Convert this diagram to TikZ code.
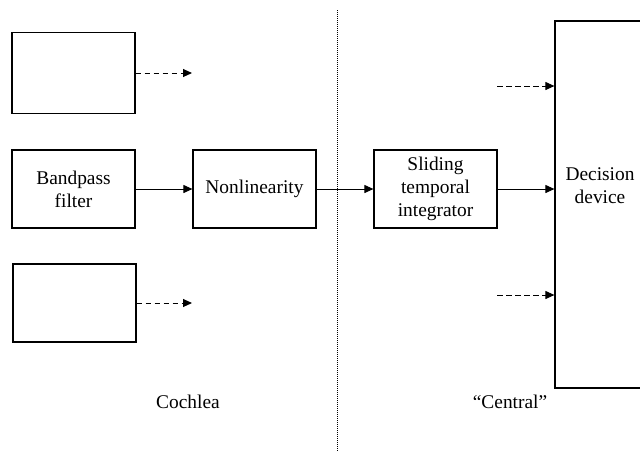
\documentclass[tikz,border=0pt]{standalone}
\usepackage{fontspec}
\setmainfont{Liberation Serif}
\usepackage{tikz}
\usetikzlibrary{arrows.meta, calc, positioning}

\tikzset{
  blk/.style={draw, line width=1.2pt, minimum width=123pt, minimum height=78pt,
    align=center, inner sep=0pt},
  sig/.style={-{Triangle[length=9pt, width=8pt]}, line width=1pt},
  aux/.style={sig, dash pattern=on 5.5pt off 3.5pt}
}

\begin{document}
\begin{tikzpicture}[x=1pt, y=-1pt, font=\fontsize{19.4}{23}\selectfont]
\useasboundingbox (0,0) rectangle (640,451);

\node[blk, minimum height=81pt] (chtop) at (73.5,73) {};
\node[blk] (bpf) at (73.5,189) {Bandpass\\filter};
\node[blk] (chbot) at (74.5,303) {};
\node[blk] (nonlin) at (254.5,189) {Nonlinearity};
\node[blk] (sti) at (435.5,189) {Sliding\\temporal\\integrator};
\node[blk, minimum width=92pt, minimum height=367pt] (dec) at (601,204.5) {};
\node[align=center] (declab) at (600,186) {Decision\\device};

\node (cochlea) at (188,402) {Cochlea};
\node (central) at (510,402) {``Central''};

% boundary between the two stages
\coordinate (sepA) at (337,10);
\coordinate (sepB) at (337,451);
\draw[line width=0.8pt, dash pattern=on 1pt off 1pt] (sepA) -- (sepB);

\draw[sig] (bpf) -- (nonlin);
\draw[sig] (nonlin) -- (sti);
\draw[sig] (sti.east) -- (sti.east -| dec.west);

% other channels
\coordinate (outA) at (192,73);
\coordinate (outB) at (192,303);
\draw[aux] (chtop.east) -- (outA);
\draw[aux] (chbot.east) -- (outB);

\coordinate (inA) at (497,86);
\coordinate (inB) at (497,295);
\draw[aux] (inA) -- (inA -| dec.west);
\draw[aux] (inB) -- (inB -| dec.west);
\end{tikzpicture}
\end{document}
